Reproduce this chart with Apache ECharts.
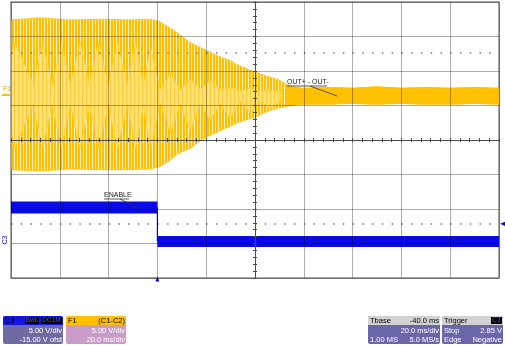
<!DOCTYPE html>
<html><head><meta charset="utf-8">
<script src="https://cdn.jsdelivr.net/npm/echarts@6/dist/echarts.min.js"></script>
<style>html,body{margin:0;padding:0;background:#fff}#c{width:505px;height:345px}</style>
</head><body><div id="c"></div>
<script>
// ---- time base (ms): trigger at 0, 20 ms/div, 10 divisions ----
const timeMin = -60, timeMax = 140, timeStep = 20;
// ---- F1 (C1-C2), volts, 5 V/div ----
const f1OuterTime = [-60,-48,-36,-23,-11,-2.9,1.2,5.3,8.2,13.5,17.6,20.5,26.6,29.9,32.8,38.1,39.8,43.4,46.3,49.2,53.3,58.6,70,80,90,100,110,120,130,140];
const f1OuterHigh = [10.9,11.2,10.9,11.0,10.9,11.0,10.6,9.7,9.0,7.6,6.9,6.4,5.4,5.0,4.4,3.6,3.4,2.9,2.6,2.3,1.5,1.0,1.1,1.0,1.2,1.0,1.1,1.0,1.1,1.0];
const f1OuterLow  = [-10.8,-11.0,-10.7,-10.8,-10.8,-10.7,-10.3,-9.4,-8.5,-7.7,-6.6,-6.0,-5.0,-4.5,-4.0,-3.4,-3.2,-2.6,-2.2,-1.9,-1.6,-1.3,-1.3,-1.2,-1.3,-1.2,-1.3,-1.3,-1.2,-1.3];
const f1InnerTime = [-60,-58.6,-50.8,-47.1,-43.0,-39.3,-35.7,-31.6,-27.9,-24.2,-20.1,-16.4,-12.3,-9.0,-5.7,-2.9,1.2,5.3,9.4,13.5,17.6,21.7,25.8,29.9,34.0,38.1,42.2,46.3,50.4];
const f1InnerHigh = [5.0,7.7,1.5,7.7,1.5,7.7,1.5,7.7,1.5,7.7,1.5,7.7,1.5,7.7,1.5,7.0,0.8,3.2,0.8,2.2,0.8,2.2,0.8,1.0,0.6,1.0,0.6,0.7,0.5];
const f1InnerLow  = [-5.0,-7.7,-1.4,-7.7,-1.4,-7.7,-1.4,-7.7,-1.4,-7.7,-1.4,-7.7,-1.4,-7.7,-1.4,-7.9,-1.2,-5.5,-1.2,-5.1,-1.2,-3.6,-1.2,-3.3,-1.0,-2.6,-1.0,-1.9,-0.8];
const f1SteadyTime = [53,60,70,80,90,100,110,120,130,140];
const f1SteadyHigh = [1.2,1.0,1.1,1.0,1.2,1.0,1.1,1.0,1.1,1.0];
const f1SteadyLow  = [-1.4,-1.3,-1.3,-1.2,-1.3,-1.2,-1.3,-1.3,-1.2,-1.3];
const f1Marker = 6.1;          // dotted level line on F1 scale
// ---- C3 (ENABLE), volts, 5 V/div, -15 V offset ----
const c3HighTime = [-60, 0];
const c3HighVal  = [5.2, 5.2];
const c3LowTime  = [0, 140];
const c3LowVal   = [0.3, 0.3];
const c3TrigLevel = 2.85;

const zip = (a, b) => a.map((v, i) => [v, b[i]]);
function stripe(cols) {
  const c = document.createElement('canvas');
  c.width = cols.length; c.height = 1;
  const g = c.getContext('2d');
  cols.forEach((col, i) => { g.fillStyle = col; g.fillRect(i, 0, 1, 1); });
  return { image: c, repeat: 'repeat' };
}
const GOLD = '#FFC000', PALE = '#FFE184', BLUE = '#0A0AE6';
const outerPat = stripe([GOLD, GOLD, '#FFF0B8']);
const innerPat = stripe([PALE, PALE, '#FFCB2A', PALE]);

const G = { left: 11, right: 6, top: 2, bottom: 67 };
const hidden = { axisLabel: { show: false }, axisTick: { show: false }, axisLine: { show: false }, splitLine: { show: false } };

function areaSeries(t, v, pat, z, lineCol) {
  return { type: 'line', xAxisIndex: 0, yAxisIndex: 0, data: zip(t, v), showSymbol: false, silent: true,
    lineStyle: { width: 0.8, color: lineCol || GOLD }, areaStyle: { color: pat, opacity: 1 }, z: z, animation: false };
}

const chart = echarts.init(document.getElementById('c'), null, { renderer: 'canvas' });

function infoBox(x, w, headCol, bodyCol, hl, hr, rows, headText) {
  const els = [];
  els.push({ type: 'rect', shape: { x: x, y: 316, width: w, height: 28, r: 2 }, style: { fill: bodyCol } });
  els.push({ type: 'rect', shape: { x: x, y: 316, width: w, height: 9, r: [2, 2, 0, 0] }, style: { fill: headCol } });
  els.push({ type: 'text', x: x + 2, y: 320.5, style: { text: hl, fill: headText || '#000', font: '7.5px "Liberation Sans"', textVerticalAlign: 'middle' } });
  if (hr) els.push({ type: 'text', x: x + w - 1, y: 320.5, style: { text: hr, fill: headText || '#000', font: '7.5px "Liberation Sans"', textAlign: 'right', textVerticalAlign: 'middle' } });
  rows.forEach((r, i) => {
    const yy = 330.5 + i * 9;
    if (r[0]) els.push({ type: 'text', x: x + 2, y: yy, style: { text: r[0], fill: '#fff', font: '7.5px "Liberation Sans"', textVerticalAlign: 'middle' } });
    if (r[1]) els.push({ type: 'text', x: x + w - 1, y: yy, style: { text: r[1], fill: '#fff', font: '7.5px "Liberation Sans"', textAlign: 'right', textVerticalAlign: 'middle' } });
  });
  return els;
}

const graphics = [].concat(
  infoBox(3, 60, '#1414E6', '#6E6AA2', 'C3', '', [['', '5.00 V/div'], ['', '-15.00 V ofst']]),
  [
    { type: 'rect', shape: { x: 25, y: 317, width: 14, height: 7 }, style: { fill: '#000' } },
    { type: 'text', x: 32, y: 320.5, style: { text: 'BwL', fill: '#5050ff', font: '6.5px "Liberation Sans"', textAlign: 'center', textVerticalAlign: 'middle' } },
    { type: 'rect', shape: { x: 41, y: 317, width: 21, height: 7 }, style: { fill: '#000' } },
    { type: 'text', x: 51.5, y: 320.5, style: { text: 'DC1M', fill: '#5050ff', font: '6.5px "Liberation Sans"', textAlign: 'center', textVerticalAlign: 'middle' } }
  ],
  infoBox(66, 60, GOLD, '#C89BC8', 'F1', '(C1-C2)', [['', '5.00 V/div'], ['', '20.0 ms/div']]),
  infoBox(368, 72, '#D2D2D2', '#6A66AA', 'Tbase', '-40.0 ms', [['', '20.0 ms/div'], ['1.00 MS', '5.0 MS/s']]),
  infoBox(442, 61, '#D2D2D2', '#6A66AA', 'Trigger', '', [['Stop', '2.85 V'], ['Edge', 'Negative']]),
  [
    { type: 'rect', shape: { x: 491, y: 317, width: 11, height: 7 }, style: { fill: '#000' } },
    { type: 'text', x: 496.5, y: 320.5, style: { text: 'C3', fill: '#5050ff', font: '6.5px "Liberation Sans"', textAlign: 'center', textVerticalAlign: 'middle' } },
    // channel labels
    { type: 'text', x: 3, y: 89, style: { text: 'F1', fill: '#E0A800', font: '7px "Liberation Sans"', textVerticalAlign: 'middle' } },
    { type: 'line', shape: { x1: 2, y1: 95, x2: 10, y2: 95 }, style: { stroke: GOLD, lineWidth: 2 } },
    { type: 'text', x: 5, y: 240, rotation: Math.PI / 2, style: { text: 'C3', fill: BLUE, font: '7px "Liberation Sans"', textAlign: 'center', textVerticalAlign: 'middle' } },
    // annotations
    { type: 'text', x: 287, y: 82, z: 50, style: { text: 'OUT+ - OUT-', fill: '#222', font: '7px "Liberation Sans"', textVerticalAlign: 'middle' } },
    { type: 'line', z: 50, shape: { x1: 287, y1: 86, x2: 327, y2: 86 }, style: { stroke: '#333', lineWidth: 0.8 } },
    { type: 'line', z: 50, shape: { x1: 310, y1: 86, x2: 337, y2: 96 }, style: { stroke: '#333', lineWidth: 0.8 } },
    { type: 'text', x: 104, y: 195, z: 50, style: { text: 'ENABLE', fill: '#222', font: '7px "Liberation Sans"', textVerticalAlign: 'middle' } },
    { type: 'line', z: 50, shape: { x1: 104, y1: 199, x2: 129, y2: 199 }, style: { stroke: '#333', lineWidth: 0.8 } },
    { type: 'line', z: 50, shape: { x1: 120, y1: 199, x2: 140, y2: 209 }, style: { stroke: '#333', lineWidth: 0.8 } }
  ]
);

const overlayAxis = (min, max, inside, split) => ({
  type: 'value', min: min, max: max, interval: 1, z: 10, silent: true,
  axisLabel: { show: false },
  axisLine: { show: true, onZero: true, lineStyle: { color: '#4a4a4a', width: 1 } },
  axisTick: { show: true, inside: inside, length: 2, lineStyle: { color: '#4a4a4a' } },
  minorTick: { show: true, splitNumber: 5, length: 2, lineStyle: { color: '#4a4a4a' } },
  splitLine: { show: split, lineStyle: { color: 'rgba(0,0,0,0.32)', width: 1 } }
});

chart.setOption({
  animation: false,
  backgroundColor: '#fff',
  grid: [
    Object.assign({ show: true, borderColor: '#8a8a8a', borderWidth: 1.5, backgroundColor: 'transparent' }, G),
    Object.assign({}, G),
    Object.assign({}, G)
  ],
  xAxis: [
    Object.assign({ type: 'value', gridIndex: 0, min: timeMin, max: timeMax, interval: timeStep }, hidden),
    Object.assign({ gridIndex: 1 }, overlayAxis(-5, 5, false, true)),
    Object.assign({ gridIndex: 2 }, overlayAxis(-5, 5, true, false))
  ],
  yAxis: [
    Object.assign({ type: 'value', gridIndex: 0, min: -26.5, max: 13.5 }, hidden),
    Object.assign({ type: 'value', gridIndex: 0, min: -5, max: 35 }, hidden),
    Object.assign({ gridIndex: 1 }, overlayAxis(-4, 4, false, true)),
    Object.assign({ gridIndex: 2 }, overlayAxis(-4, 4, true, false))
  ],
  graphic: graphics,
  series: [
    {
      type: 'line', xAxisIndex: 0, yAxisIndex: 0, data: [], silent: true,
      markLine: { silent: true, symbol: 'none', label: { show: false },
        lineStyle: { color: '#7a7a7a', type: [1.5, 8.26], width: 1.5 },
        data: [{ yAxis: f1Marker }] }, z: 1
    },
    areaSeries(f1OuterTime, f1OuterHigh, outerPat, 2),
    areaSeries(f1OuterTime, f1OuterLow, outerPat, 2),
    areaSeries(f1InnerTime, f1InnerHigh, innerPat, 3, '#FFD040'),
    areaSeries(f1InnerTime, f1InnerLow, innerPat, 3, '#FFD040'),
    areaSeries(f1SteadyTime, f1SteadyHigh, GOLD, 4),
    areaSeries(f1SteadyTime, f1SteadyLow, GOLD, 4),
    {
      type: 'line', xAxisIndex: 0, yAxisIndex: 1, data: zip(c3HighTime, c3HighVal), showSymbol: false, silent: true,
      lineStyle: { color: BLUE, width: 12, cap: 'butt' }, z: 5,
      markLine: { silent: true, symbol: 'none', label: { show: false },
        lineStyle: { color: '#7a7a7a', type: [1.5, 8.26], width: 1.5 },
        data: [{ yAxis: c3TrigLevel }] },
      markPoint: { silent: true, label: { show: false }, itemStyle: { color: BLUE },
        data: [
          { coord: [timeMax, c3TrigLevel], symbol: 'triangle', symbolSize: [5, 6], symbolRotate: 90, symbolOffset: [4, 0] },
          { coord: [0, -5], symbol: 'triangle', symbolSize: [4, 5], symbolOffset: [0, 1] }
        ] }
    },
    {
      type: 'line', xAxisIndex: 0, yAxisIndex: 1, data: zip(c3LowTime, c3LowVal), showSymbol: false, silent: true,
      lineStyle: { color: BLUE, width: 11, cap: 'butt' }, z: 5
    },
    {
      type: 'line', xAxisIndex: 0, yAxisIndex: 1, data: [[c3HighTime[1], c3HighVal[1]], [c3LowTime[0], c3LowVal[0]]], showSymbol: false, silent: true,
      lineStyle: { color: BLUE, width: 1.2 }, z: 5
    }
  ]
});
</script></body></html>
